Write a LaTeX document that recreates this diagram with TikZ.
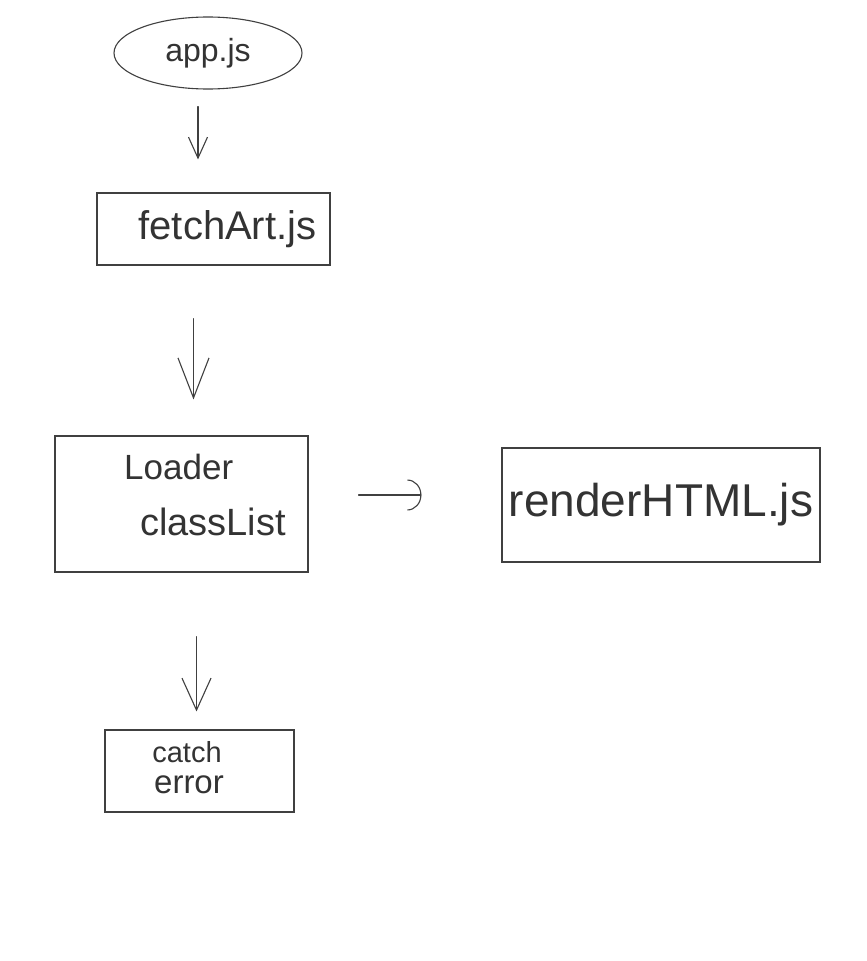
\documentclass[tikz,border=0pt]{standalone}
\usepackage{fontspec}
\setmainfont{Liberation Sans}
\usetikzlibrary{arrows.meta, positioning, shapes.geometric}

\tikzset{
  pen/.style={draw=black!75, line width=1.1pt},
  box/.style={pen, rectangle, inner sep=0pt},
  hand/.style={inner sep=0pt, text=black!80},
  flow/.style={pen, line cap=round, -{Straight Barb[length=21pt, width=19pt, line width=1.1pt]}},
}

\begin{document}
\begin{tikzpicture}[x=1pt, y=-1pt]
  \useasboundingbox[fill=white] (0,0) rectangle (867,961);

  % boxes
  \node[pen, ellipse, minimum width=188pt, minimum height=72pt, inner sep=0pt] (app) at (208,53) {};
  \node[box, minimum width=233pt, minimum height=72pt] (fetch) at (213.5,229) {};
  \node[box, minimum width=253pt, minimum height=136pt] (loader) at (181.5,504) {};
  \node[box, minimum width=318pt, minimum height=114pt] (render) at (661,505) {};
  \node[box, minimum width=189pt, minimum height=82pt] (catch) at (199.5,771) {};

  % texts
  \node[hand, font=\fontsize{32}{36}\selectfont] (apptext) at (app.center) {app.js};
  \node[hand, font=\fontsize{40}{44}\selectfont] (fetchtext) at ([xshift=14pt]fetch.center) {fetchArt.js};
  \node[hand, font=\fontsize{35}{40}\selectfont, anchor=west] (loadertext) at (124,467) {Loader};
  \node[hand, font=\fontsize{38}{42}\selectfont, anchor=west] (classtext) at (140,522) {classList};
  \node[hand, font=\fontsize{46}{50}\selectfont] (rendertext) at (render.center) {renderHTML.js};
  \node[hand, font=\fontsize{29}{32}\selectfont] (catchtext) at (187,752) {catch};
  \node[hand, font=\fontsize{33}{36}\selectfont] (errortext) at (189,785) {error};

  % arrows
  \draw[flow, shorten <=17pt, shorten >=33pt] ([xshift=-10pt]app.south) -- ([xshift=-10pt]app.south |- fetch.north);
  \draw[flow, -{Straight Barb[length=40pt, width=31pt, line width=1.1pt]}, shorten <=53pt, shorten >=36pt]
    ([xshift=-20pt]fetch.south) -- ([xshift=-20pt]fetch.south |- loader.north);
  \draw[flow, -{Arc Barb[length=14pt, width=31pt, line width=1.1pt]}, shorten <=50pt, shorten >=80pt]
    ([yshift=9pt]loader.east) -- ([yshift=9pt]loader.east -| render.west);
  \draw[flow, -{Straight Barb[length=32pt, width=29pt, line width=1.1pt]}, shorten <=64pt, shorten >=18pt]
    ([xshift=15pt]loader.south) -- ([xshift=15pt]loader.south |- catch.north);
\end{tikzpicture}
\end{document}
